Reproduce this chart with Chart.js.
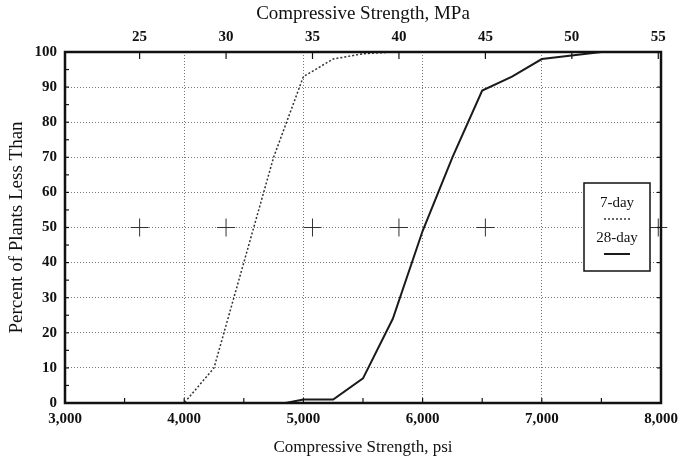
<!DOCTYPE html>
<html lang="en">
<head>
<meta charset="UTF-8">
<title>Compressive Strength Distribution</title>
<script src="https://cdn.jsdelivr.net/npm/chart.js"></script>
<style>
    html, body { margin: 0; padding: 0; background: #fff; }
    #grafico { display: block; }
</style>
</head>
<body>
<canvas id="grafico" width="681" height="464"></canvas>
<script>
    // values
    const PSI_7DAY = [3000, 4000, 4250, 4500, 4750, 5000, 5250, 5500, 5750, 8000];
    const PCT_7DAY = [0, 0, 10, 40, 70, 93, 98, 99.5, 100, 100];

    const PSI_28DAY = [3000, 4850, 5000, 5250, 5500, 5750, 6000, 6250, 6500, 6750, 7000, 7250, 7500, 8000];
    const PCT_28DAY = [0, 0, 1, 1, 7, 24, 49, 70, 89, 93, 98, 99, 100, 100];

    const MPA_TICKS = [25, 30, 35, 40, 45, 50, 55];
    const MPA_CROSSES = [25, 30, 35, 40, 45, 55];
    const CROSS_LEVEL = 50;

    const PSI_MIN = 3000, PSI_MAX = 8000;
    const PSI_PER_MPA = 145.038;
    const SERIF = '"Liberation Serif", "Times New Roman", serif';

    const toPoints = (xs, ys) => xs.map((x, i) => ({ x: x, y: ys[i] }));

    const marcoPlugin = {
        id: 'marco',
        afterDatasetsDraw(chart) {
            const { ctx, chartArea: a, scales } = chart;
            const line = (x1, y1, x2, y2) => { ctx.beginPath(); ctx.moveTo(x1, y1); ctx.lineTo(x2, y2); ctx.stroke(); };
            ctx.save();
            ctx.strokeStyle = '#111';
            ctx.lineWidth = 1.2;
            for (let v = PSI_MIN; v <= PSI_MAX; v += 500) {
                const px = scales.x.getPixelForValue(v);
                line(px, a.bottom, px, a.bottom - 5);
            }
            MPA_TICKS.forEach(m => {
                const px = scales.x2.getPixelForValue(m);
                line(px, a.top, px, a.top + 7);
            });
            for (let v = 0; v <= 100; v += 5) {
                const py = scales.y.getPixelForValue(v);
                line(a.left, py, a.left + 4, py);
                if (v % 10 === 0) line(a.right, py, a.right - 4, py);
            }
            ctx.lineWidth = 2.5;
            ctx.strokeRect(a.left, a.top, a.width, a.height);
            ctx.restore();
        }
    };

    const leyendaPlugin = {
        id: 'leyenda',
        afterDraw(chart) {
            const { ctx, chartArea: a } = chart;
            const w = 66, h = 88;
            const x0 = a.right - 11 - w, y0 = a.top + 131;
            const cx = x0 + w / 2;
            ctx.save();
            ctx.fillStyle = '#fff';
            ctx.fillRect(x0, y0, w, h);
            ctx.strokeStyle = '#111';
            ctx.lineWidth = 1.5;
            ctx.strokeRect(x0, y0, w, h);
            chart.data.datasets.slice(0, 2).forEach((ds, i) => {
                const cy = y0 + 20 + i * 35;
                ctx.fillStyle = '#111';
                ctx.font = '15px ' + SERIF;
                ctx.textAlign = 'center';
                ctx.textBaseline = 'middle';
                ctx.fillText(ds.label, cx, cy);
                ctx.strokeStyle = ds.borderColor;
                ctx.lineWidth = ds.borderWidth;
                ctx.setLineDash(ds.borderDash || []);
                ctx.beginPath();
                ctx.moveTo(cx - 13, cy + 16);
                ctx.lineTo(cx + 13, cy + 16);
                ctx.stroke();
            });
            ctx.restore();
        }
    };

    const tickFont = { family: SERIF, size: 15, weight: 'bold' };

    new Chart(document.getElementById('grafico'), {
        type: 'scatter',
        data: {
            datasets: [{
                label: '7-day',
                data: toPoints(PSI_7DAY, PCT_7DAY),
                showLine: true,
                borderColor: '#333',
                borderWidth: 1.5,
                borderDash: [2, 2],
                pointRadius: 0,
                xAxisID: 'x'
            }, {
                label: '28-day',
                data: toPoints(PSI_28DAY, PCT_28DAY),
                showLine: true,
                borderColor: '#1a1a1a',
                borderWidth: 2,
                pointRadius: 0,
                xAxisID: 'x'
            }, {
                label: 'MPa marks',
                data: MPA_CROSSES.map(m => ({ x: m, y: CROSS_LEVEL })),
                xAxisID: 'x2',
                pointStyle: 'cross',
                pointRadius: 9,
                borderColor: '#333',
                borderWidth: 1,
                clip: false
            }]
        },
        options: {
            responsive: false,
            animation: false,
            devicePixelRatio: 1,
            layout: { padding: { left: 0, right: 20, top: 0, bottom: 0 } },
            plugins: {
                legend: { display: false },
                tooltip: { enabled: false }
            },
            scales: {
                x: {
                    type: 'linear',
                    position: 'bottom',
                    min: PSI_MIN,
                    max: PSI_MAX,
                    ticks: {
                        stepSize: 1000,
                        autoSkip: false,
                        maxRotation: 0,
                        padding: 7,
                        color: '#111',
                        font: tickFont,
                        callback: v => v.toLocaleString('en-US')
                    },
                    grid: {
                        drawTicks: false,
                        lineWidth: 1,
                        color: c => (c.tick && c.tick.value > PSI_MIN && c.tick.value < PSI_MAX) ? '#777' : 'rgba(0,0,0,0)'
                    },
                    border: { display: false, dash: [1, 2] },
                    title: {
                        display: true,
                        text: 'Compressive Strength, psi',
                        color: '#111',
                        font: { family: SERIF, size: 17 },
                        padding: { top: 0, bottom: 6 }
                    },
                    afterFit: s => { s.height = 61; s.paddingLeft = 0; s.paddingRight = 0; }
                },
                x2: {
                    type: 'linear',
                    position: 'top',
                    min: PSI_MIN / PSI_PER_MPA,
                    max: PSI_MAX / PSI_PER_MPA,
                    afterBuildTicks: s => { s.ticks = MPA_TICKS.map(v => ({ value: v })); },
                    ticks: {
                        autoSkip: false,
                        maxRotation: 0,
                        padding: 6,
                        color: '#111',
                        font: tickFont
                    },
                    grid: { display: false, drawTicks: false },
                    border: { display: false },
                    title: {
                        display: true,
                        text: 'Compressive Strength, MPa',
                        color: '#111',
                        font: { family: SERIF, size: 19 },
                        padding: { top: 3, bottom: 0 }
                    },
                    afterFit: s => { s.height = 52; s.paddingLeft = 0; s.paddingRight = 0; }
                },
                y: {
                    min: 0,
                    max: 100,
                    ticks: {
                        stepSize: 10,
                        padding: 8,
                        color: '#111',
                        font: tickFont
                    },
                    grid: {
                        drawTicks: false,
                        lineWidth: 1,
                        color: c => (c.tick && c.tick.value > 0 && c.tick.value < 100) ? '#777' : 'rgba(0,0,0,0)'
                    },
                    border: { display: false, dash: [1, 2] },
                    title: {
                        display: true,
                        text: 'Percent of Plants Less Than',
                        color: '#111',
                        font: { family: SERIF, size: 19 },
                        padding: { top: 6, bottom: 0 }
                    },
                    afterFit: s => { s.width = 65; }
                }
            }
        },
        plugins: [marcoPlugin, leyendaPlugin]
    });
</script>
</body>
</html>
